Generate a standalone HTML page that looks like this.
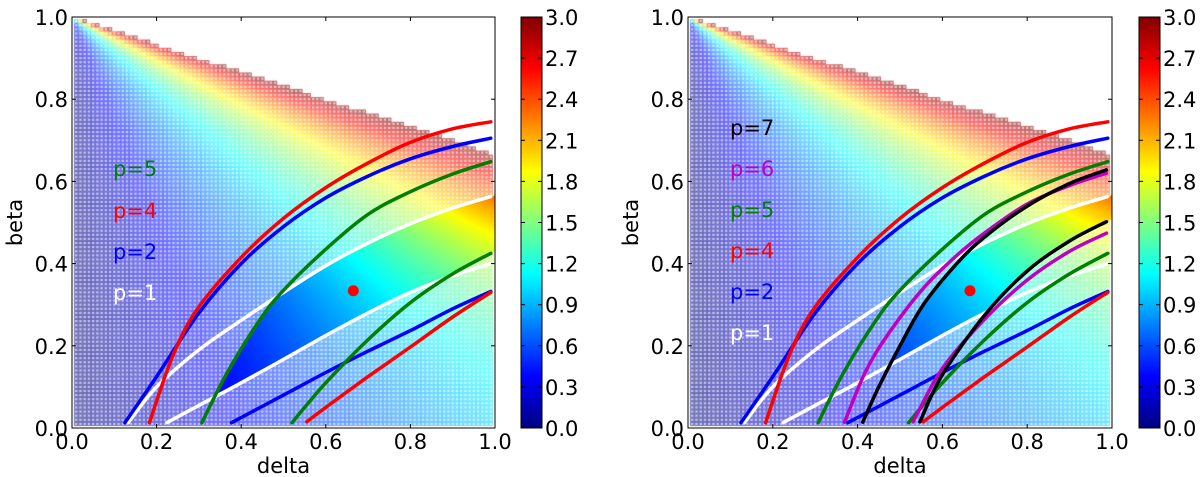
<!DOCTYPE html>
<html><head><meta charset="utf-8">
<style>
html,body{margin:0;padding:0;background:#fff;}
#wrap{position:relative;width:1200px;height:477px;overflow:hidden;}
canvas,svg{position:absolute;left:0;top:0;}
text{font-family:"DejaVu Sans","Liberation Sans",sans-serif;}
</style></head>
<body>
<div id="wrap">
<canvas id="cv" width="1200" height="477"></canvas>
<svg id="sv" width="1200" height="477" xmlns="http://www.w3.org/2000/svg"></svg>
</div>
<script>
// ---- data ----
const xTicks = [0, 0.2, 0.4, 0.6, 0.8, 1.0];
const xTickLabels = ["0.0","0.2","0.4","0.6","0.8","1.0"];
const yTicks = [0, 0.2, 0.4, 0.6, 0.8, 1.0];
const yTickLabels = ["0.0","0.2","0.4","0.6","0.8","1.0"];
const cbTicks = [0, 0.3, 0.6, 0.9, 1.2, 1.5, 1.8, 2.1, 2.4, 2.7, 3.0];
const cbTickLabels = ["0.0","0.3","0.6","0.9","1.2","1.5","1.8","2.1","2.4","2.7","3.0"];
const vmax = 3.0;
const gridN = 100;

const p1Upper = [[0.133,0.013],[0.2,0.10],[0.3,0.19],[0.4,0.262],[0.5,0.33],[0.6,0.395],[0.7,0.45],[0.8,0.497],[0.9,0.535],[0.99,0.563]];
const p1Lower = [[0.224,0.013],[0.3,0.055],[0.4,0.11],[0.5,0.167],[0.6,0.225],[0.7,0.28],[0.8,0.33],[0.9,0.37],[0.99,0.40]];
const p2Upper = [[0.125,0.013],[0.2,0.125],[0.3,0.28],[0.4,0.40],[0.5,0.49],[0.6,0.56],[0.7,0.613],[0.8,0.655],[0.9,0.685],[0.99,0.705]];
const p2Lower = [[0.377,0.013],[0.5,0.08],[0.6,0.135],[0.7,0.187],[0.8,0.237],[0.9,0.29],[0.99,0.332]];
const p4Upper = [[0.183,0.013],[0.24,0.18],[0.3,0.295],[0.4,0.415],[0.5,0.51],[0.6,0.585],[0.7,0.645],[0.8,0.695],[0.9,0.728],[0.99,0.745]];
const p4Lower = [[0.555,0.015],[0.6,0.05],[0.7,0.125],[0.8,0.197],[0.9,0.27],[0.99,0.33]];
const p5Upper = [[0.307,0.013],[0.366,0.133],[0.444,0.263],[0.5,0.335],[0.6,0.435],[0.7,0.52],[0.8,0.575],[0.9,0.618],[0.99,0.648]];
const p5Lower = [[0.52,0.013],[0.6,0.11],[0.7,0.215],[0.8,0.305],[0.9,0.375],[0.99,0.425]];
const p6Upper = [[0.369,0.014],[0.42,0.14],[0.476,0.234],[0.555,0.34],[0.634,0.42],[0.7,0.475],[0.8,0.545],[0.9,0.59],[0.987,0.62]];
const p6Lower = [[0.531,0.015],[0.6,0.145],[0.7,0.265],[0.8,0.36],[0.9,0.43],[0.987,0.474]];
const p7Upper = [[0.412,0.014],[0.45,0.1],[0.5,0.2],[0.555,0.30],[0.634,0.40],[0.7,0.465],[0.8,0.54],[0.9,0.595],[0.987,0.628]];
const p7Lower = [[0.547,0.015],[0.6,0.13],[0.7,0.275],[0.8,0.382],[0.9,0.455],[0.987,0.502]];
const markerPoint = [0.665, 0.334];

// ---- layout ----
const NS = "http://www.w3.org/2000/svg";
const svg = document.getElementById('sv');
const ctx = document.getElementById('cv').getContext('2d');
const panels = [
  {x0:72, w:423, top:17, bottom:428, cbx:521, cbw:21, name:'left',
   curves:[[p1Upper,'#ffffff','p1-upper'],[p1Lower,'#ffffff','p1-lower'],[p2Upper,'#0000ff','p2-upper'],[p2Lower,'#0000ff','p2-lower'],[p4Upper,'#ff0000','p4-upper'],[p4Lower,'#ff0000','p4-lower'],[p5Upper,'#007f00','p5-upper'],[p5Lower,'#007f00','p5-lower']],
   band:[p5Upper,p5Lower],
   legend:[['p=5','#007f00',168],['p=4','#ff0000',210],['p=2','#0000ff',251],['p=1','#ffffff',292]], lx:113},
  {x0:688, w:424, top:17, bottom:428, cbx:1139, cbw:21, name:'right',
   curves:[[p1Upper,'#ffffff','p1-upper'],[p1Lower,'#ffffff','p1-lower'],[p2Upper,'#0000ff','p2-upper'],[p2Lower,'#0000ff','p2-lower'],[p4Upper,'#ff0000','p4-upper'],[p4Lower,'#ff0000','p4-lower'],[p5Upper,'#007f00','p5-upper'],[p5Lower,'#007f00','p5-lower'],[p6Upper,'#bf00bf','p6-upper'],[p6Lower,'#bf00bf','p6-lower'],[p7Upper,'#000000','p7-upper'],[p7Lower,'#000000','p7-lower']],
   band:[p7Upper,p7Lower],
   legend:[['p=7','#000000',127],['p=6','#bf00bf',168],['p=5','#007f00',209],['p=4','#ff0000',250],['p=2','#0000ff',291],['p=1','#ffffff',332]], lx:730}
];

function jet(x){
  x=Math.max(0,Math.min(1,x));
  const c=t=>Math.max(0,Math.min(1,1.5-Math.abs(t)));
  return [c(4*x-3)*255|0, c(4*x-2)*255|0, c(4*x-1)*255|0];
}
function value(d,b){ return d/(1-b); }
function interp(arr,d){
  if(d<arr[0][0]) return -Infinity;
  for(let i=1;i<arr.length;i++){
    if(d<=arr[i][0]){const a=arr[i-1],c=arr[i];return a[1]+(c[1]-a[1])*(d-a[0])/(c[0]-a[0]);}
  }
  const a=arr[arr.length-2],c=arr[arr.length-1];
  return c[1]+(c[1]-a[1])*(d-c[0])/(c[0]-a[0]);
}
function mk(tag,attrs,parent){
  const e=document.createElementNS(NS,tag);
  for(const k in attrs) e.setAttribute(k,attrs[k]);
  (parent||svg).appendChild(e); return e;
}
function pathFrom(pts){
  let d='M'+pts[0][0].toFixed(1)+' '+pts[0][1].toFixed(1);
  for(let i=0;i<pts.length-1;i++){
    const p0=pts[Math.max(0,i-1)],p1=pts[i],p2=pts[i+1],p3=pts[Math.min(pts.length-1,i+2)];
    const c1=[p1[0]+(p2[0]-p0[0])/6,p1[1]+(p2[1]-p0[1])/6];
    const c2=[p2[0]-(p3[0]-p1[0])/6,p2[1]-(p3[1]-p1[1])/6];
    d+=' C'+c1[0].toFixed(1)+' '+c1[1].toFixed(1)+' '+c2[0].toFixed(1)+' '+c2[1].toFixed(1)+' '+p2[0].toFixed(1)+' '+p2[1].toFixed(1);
  }
  return d;
}

panels.forEach(P=>{
  const h=P.bottom-P.top;
  const sx=d=>P.x0+d*P.w, sy=b=>P.bottom-b*h;
  const cw=P.w/gridN, ch=h/gridN;
  for(let i=1;i<gridN;i++){
    for(let j=1;j<gridN;j++){
      const d=i/gridN,b=j/gridN,v=value(d,b);
      if(v>vmax) continue;
      const c=jet(v/vmax);
      const x=sx(d)-cw/2,y=sy(b)-ch/2;
      ctx.fillStyle='rgba('+c[0]+','+c[1]+','+c[2]+',0.22)';
      ctx.fillRect(x,y,cw,ch);
      ctx.strokeStyle='rgba('+c[0]+','+c[1]+','+c[2]+',0.5)';
      ctx.lineWidth=0.9;
      ctx.strokeRect(x+0.45,y+0.45,cw-0.9,ch-0.9);
    }
  }
  const img=ctx.getImageData(P.x0,P.top,Math.ceil(P.w),h);
  for(let py=0;py<h;py++){
    const b=(h-py-0.5)/h;
    for(let px=0;px<img.width;px++){
      const d=(px+0.5)/P.w;
      if(b>interp(p1Upper,d)||b<interp(p1Lower,d)) continue;
      if(b>interp(P.band[0],d)||b<interp(P.band[1],d)) continue;
      const v=value(d,b); if(v>vmax) continue;
      const c=jet(v/vmax),k=(py*img.width+px)*4;
      img.data[k]=c[0];img.data[k+1]=c[1];img.data[k+2]=c[2];img.data[k+3]=255;
    }
  }
  ctx.putImageData(img,P.x0,P.top);

  const g=mk('g',{});
  
  
  P.curves.forEach(cv=>{
    const pts=cv[0].map(p=>[sx(p[0]),sy(p[1])]);
    const el=mk('path',{d:pathFrom(pts),fill:'none',stroke:cv[1],'stroke-width':3.5,'stroke-linecap':'round'},g);
    
    
  });
  const dot=mk('circle',{cx:sx(markerPoint[0]),cy:sy(markerPoint[1]),r:5.5,fill:'#ff0000'},g);
  
  
  const fr=mk('rect',{x:P.x0,y:P.top,width:P.w,height:h,fill:'none',stroke:'#000','stroke-width':1},g);
  
  
  xTicks.forEach((t,i)=>{
    const x=sx(t);
    mk('line',{x1:x,y1:P.bottom,x2:x,y2:P.bottom-4,stroke:'#000'},g);
    mk('line',{x1:x,y1:P.top,x2:x,y2:P.top+4,stroke:'#000'},g);
    const tx=mk('text',{x:x,y:449,'font-size':21,'text-anchor':'middle',fill:'#000'},g);
    tx.textContent=xTickLabels[i];
    
    
  });
  yTicks.forEach((t,i)=>{
    const y=sy(t);
    mk('line',{x1:P.x0,y1:y,x2:P.x0+4,y2:y,stroke:'#000'},g);
    mk('line',{x1:P.x0+P.w,y1:y,x2:P.x0+P.w-4,y2:y,stroke:'#000'},g);
    const ty=mk('text',{x:P.x0-4,y:y+8,'font-size':21,'text-anchor':'end',fill:'#000'},g);
    ty.textContent=yTickLabels[i];
    
    
  });
  const xl=mk('text',{x:P.x0+P.w/2,y:473,'font-size':21,'text-anchor':'middle',fill:'#000'},g);
  xl.textContent='delta';
  
  
  const yl=mk('text',{x:0,y:0,'font-size':21,'text-anchor':'middle',fill:'#000',transform:'translate('+(P.x0-50)+','+((P.top+P.bottom)/2)+') rotate(-90)'},g);
  yl.textContent='beta';
  
  
  P.legend.forEach(L=>{
    const t=mk('text',{x:P.lx,y:L[2]+8,'font-size':21,fill:L[1]},g);
    t.textContent=L[0];
    
    
  });
  const gid='jet-'+P.name;
  const lg=mk('linearGradient',{id:gid,x1:0,y1:1,x2:0,y2:0},mk('defs',{},g));
  for(let s=0;s<=8;s++){ const c=jet(s/8); mk('stop',{offset:(s/8),'stop-color':'rgb('+c.join(',')+')'},lg); }
  const cb=mk('rect',{x:P.cbx,y:P.top,width:P.cbw,height:h,fill:'url(#'+gid+')',stroke:'#000','stroke-width':1},g);
  
  
  cbTicks.forEach((t,i)=>{
    const y=P.bottom-t/vmax*h;
    mk('line',{x1:P.cbx,y1:y,x2:P.cbx+4,y2:y,stroke:'#000'},g);
    mk('line',{x1:P.cbx+P.cbw,y1:y,x2:P.cbx+P.cbw-4,y2:y,stroke:'#000'},g);
    const t2=mk('text',{x:P.cbx+P.cbw+3,y:y+8,'font-size':21,fill:'#000'},g);
    t2.textContent=cbTickLabels[i];
    
    
  });
});
</script>
</body></html>
